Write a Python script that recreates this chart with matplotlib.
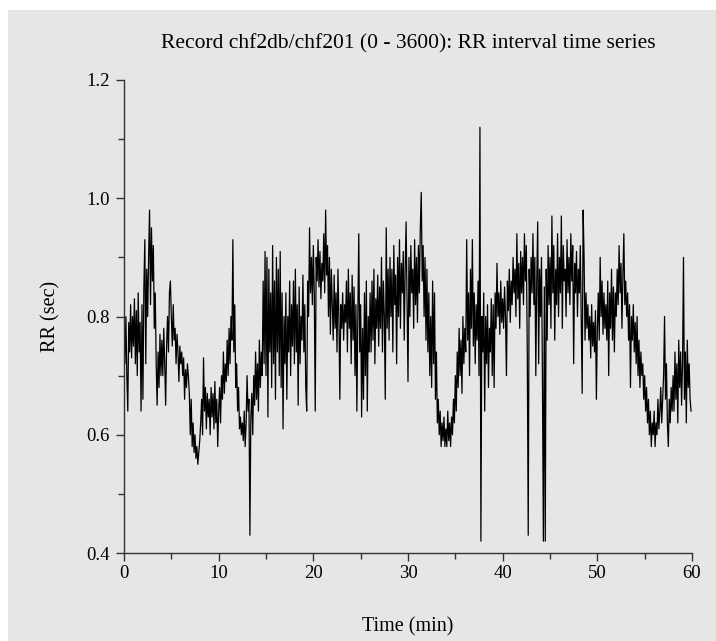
import numpy as np
import matplotlib.pyplot as plt
from matplotlib.patches import Rectangle
from matplotlib.ticker import MultipleLocator

# RR intervals (sec), 10 samples per minute
rr_by_minute = [
    [0.78, 0.72, 0.80, 0.70, 0.64, 0.79, 0.74, 0.82, 0.73, 0.80],
    [0.75, 0.83, 0.72, 0.81, 0.70, 0.84, 0.74, 0.79, 0.64, 0.82],
    [0.66, 0.85, 0.93, 0.72, 0.88, 0.80, 0.90, 0.98, 0.82, 0.95],
    [0.86, 0.92, 0.78, 0.84, 0.72, 0.65, 0.74, 0.68, 0.77, 0.70],
    [0.76, 0.70, 0.78, 0.72, 0.65, 0.75, 0.80, 0.74, 0.84, 0.86],
    [0.80, 0.75, 0.82, 0.76, 0.78, 0.72, 0.77, 0.74, 0.69, 0.75],
    [0.72, 0.74, 0.70, 0.73, 0.66, 0.71, 0.68, 0.72, 0.70, 0.67],
    [0.60, 0.66, 0.58, 0.62, 0.57, 0.60, 0.56, 0.58, 0.55, 0.57],
    [0.59, 0.62, 0.66, 0.60, 0.73, 0.64, 0.68, 0.61, 0.67, 0.63],
    [0.66, 0.60, 0.68, 0.63, 0.67, 0.61, 0.69, 0.62, 0.66, 0.58],
    [0.64, 0.68, 0.62, 0.70, 0.66, 0.74, 0.67, 0.72, 0.69, 0.76],
    [0.70, 0.78, 0.72, 0.80, 0.76, 0.93, 0.74, 0.82, 0.68, 0.72],
    [0.64, 0.68, 0.61, 0.63, 0.60, 0.62, 0.59, 0.64, 0.58, 0.62],
    [0.70, 0.64, 0.66, 0.43, 0.63, 0.67, 0.60, 0.70, 0.65, 0.74],
    [0.66, 0.72, 0.64, 0.76, 0.68, 0.74, 0.70, 0.86, 0.72, 0.91],
    [0.70, 0.90, 0.63, 0.88, 0.74, 0.84, 0.68, 0.92, 0.72, 0.86],
    [0.66, 0.90, 0.74, 0.88, 0.70, 0.91, 0.68, 0.84, 0.61, 0.80],
    [0.72, 0.84, 0.66, 0.80, 0.74, 0.86, 0.70, 0.82, 0.75, 0.86],
    [0.72, 0.88, 0.74, 0.82, 0.65, 0.85, 0.72, 0.80, 0.76, 0.87],
    [0.74, 0.82, 0.68, 0.64, 0.86, 0.80, 0.95, 0.84, 0.90, 0.82],
    [0.92, 0.84, 0.64, 0.90, 0.86, 0.93, 0.85, 0.91, 0.83, 0.89],
    [0.86, 0.94, 0.84, 0.98, 0.87, 0.92, 0.80, 0.90, 0.77, 0.88],
    [0.82, 0.76, 0.87, 0.78, 0.84, 0.74, 0.88, 0.80, 0.66, 0.82],
    [0.78, 0.84, 0.76, 0.82, 0.79, 0.86, 0.74, 0.88, 0.78, 0.84],
    [0.72, 0.87, 0.76, 0.85, 0.70, 0.82, 0.64, 0.80, 0.94, 0.74],
    [0.82, 0.63, 0.78, 0.66, 0.84, 0.70, 0.86, 0.64, 0.80, 0.74],
    [0.84, 0.74, 0.86, 0.76, 0.88, 0.72, 0.83, 0.78, 0.87, 0.75],
    [0.85, 0.78, 0.90, 0.74, 0.86, 0.80, 0.66, 0.95, 0.78, 0.88],
    [0.76, 0.90, 0.80, 0.88, 0.74, 0.92, 0.82, 0.87, 0.72, 0.90],
    [0.80, 0.93, 0.78, 0.89, 0.84, 0.91, 0.76, 0.88, 0.96, 0.82],
    [0.69, 0.90, 0.80, 0.92, 0.84, 0.88, 0.78, 0.93, 0.82, 0.90],
    [0.79, 0.92, 0.84, 0.95, 1.01, 0.86, 0.92, 0.80, 0.90, 0.76],
    [0.88, 0.74, 0.84, 0.70, 0.80, 0.68, 0.86, 0.72, 0.84, 0.66],
    [0.74, 0.62, 0.66, 0.60, 0.64, 0.58, 0.62, 0.59, 0.63, 0.58],
    [0.61, 0.58, 0.64, 0.59, 0.62, 0.58, 0.63, 0.60, 0.66, 0.62],
    [0.70, 0.64, 0.74, 0.68, 0.78, 0.70, 0.76, 0.67, 0.80, 0.72],
    [0.78, 0.74, 0.93, 0.76, 0.84, 0.70, 0.88, 0.78, 0.93, 0.75],
    [0.84, 0.72, 0.82, 0.76, 0.86, 0.70, 1.12, 0.42, 0.80, 0.74],
    [0.84, 0.64, 0.80, 0.72, 0.82, 0.68, 0.78, 0.74, 0.83, 0.70],
    [0.82, 0.68, 0.84, 0.78, 0.89, 0.80, 0.84, 0.77, 0.86, 0.79],
    [0.83, 0.78, 0.85, 0.80, 0.70, 0.86, 0.81, 0.88, 0.79, 0.86],
    [0.82, 0.90, 0.84, 0.88, 0.80, 0.94, 0.83, 0.89, 0.78, 0.91],
    [0.84, 0.90, 0.82, 0.94, 0.86, 0.92, 0.74, 0.43, 0.88, 0.80],
    [0.90, 0.84, 0.94, 0.82, 0.90, 0.70, 0.86, 0.96, 0.72, 0.88],
    [0.80, 0.90, 0.70, 0.42, 0.85, 0.42, 0.88, 0.76, 0.92, 0.82],
    [0.90, 0.78, 0.97, 0.84, 0.92, 0.76, 0.88, 0.82, 0.94, 0.80],
    [0.90, 0.84, 0.97, 0.78, 0.92, 0.86, 0.88, 0.80, 0.93, 0.84],
    [0.90, 0.82, 0.94, 0.86, 0.92, 0.72, 0.89, 0.84, 0.91, 0.80],
    [0.88, 0.84, 0.92, 0.80, 0.67, 0.98, 0.90, 0.76, 0.84, 0.78],
    [0.82, 0.76, 0.80, 0.73, 0.82, 0.75, 0.79, 0.74, 0.81, 0.66],
    [0.78, 0.84, 0.76, 0.90, 0.80, 0.86, 0.77, 0.84, 0.78, 0.82],
    [0.76, 0.86, 0.70, 0.84, 0.78, 0.88, 0.76, 0.85, 0.74, 0.84],
    [0.80, 0.88, 0.82, 0.92, 0.84, 0.89, 0.78, 0.87, 0.94, 0.82],
    [0.86, 0.80, 0.84, 0.76, 0.82, 0.68, 0.80, 0.76, 0.82, 0.74],
    [0.79, 0.72, 0.80, 0.70, 0.76, 0.68, 0.74, 0.70, 0.72, 0.66],
    [0.70, 0.64, 0.68, 0.62, 0.66, 0.60, 0.64, 0.58, 0.62, 0.60],
    [0.64, 0.58, 0.62, 0.60, 0.66, 0.61, 0.64, 0.68, 0.62, 0.66],
    [0.70, 0.80, 0.66, 0.72, 0.62, 0.58, 0.66, 0.62, 0.68, 0.64],
    [0.70, 0.64, 0.74, 0.66, 0.72, 0.62, 0.76, 0.68, 0.74, 0.65],
    [0.72, 0.90, 0.66, 0.74, 0.62, 0.76, 0.68, 0.72, 0.66, 0.64],
]
rr = np.concatenate(rr_by_minute)
t_min = np.arange(len(rr)) / 10.0

x_ticks = [0, 10, 20, 30, 40, 50, 60]
y_ticks = [0.4, 0.6, 0.8, 1.0, 1.2]

plt.rcParams['font.family'] = 'Liberation Serif'
plt.rcParams['font.size'] = 13.5

fig = plt.figure(figsize=(7.16, 6.41), dpi=100, facecolor='white')
fig.patches.append(Rectangle((8 / 716, 0), 1, 1 - 10 / 641, transform=fig.transFigure,
                             facecolor='#e6e6e6', edgecolor='none', zorder=-1))
ax = fig.add_axes([124 / 716, 1 - 553 / 641, 568 / 716, 473 / 641])
ax.set_facecolor('none')

ax.plot(t_min, rr, color='black', linewidth=0.9)

ax.set_xlim(0, 60)
ax.set_ylim(0.4, 1.2)
ax.set_xticks(x_ticks)
ax.set_yticks(y_ticks)
ax.set_yticklabels([f'{v:.1f}' for v in y_ticks])
ax.xaxis.set_minor_locator(MultipleLocator(5))
ax.yaxis.set_minor_locator(MultipleLocator(0.1))
for s in ['top', 'right']:
    ax.spines[s].set_visible(False)
for s in ['left', 'bottom']:
    ax.spines[s].set_color('#333333')
    ax.spines[s].set_linewidth(1.0)
ax.tick_params(which='major', direction='out', length=6, width=1, color='#333333')
ax.tick_params(which='minor', direction='out', length=4, width=1, color='#333333')
ax.tick_params(axis='x', pad=3)
ax.tick_params(axis='y', pad=4)

ax.set_title('Record chf2db/chf201 (0 - 3600): RR interval time series', pad=23, fontsize=15.5)
ax.set_xlabel('Time (min)', labelpad=25, fontsize=14.5)
ax.set_ylabel('RR (sec)', labelpad=19, fontsize=14.5)

fig.savefig('out.png', dpi=100)
